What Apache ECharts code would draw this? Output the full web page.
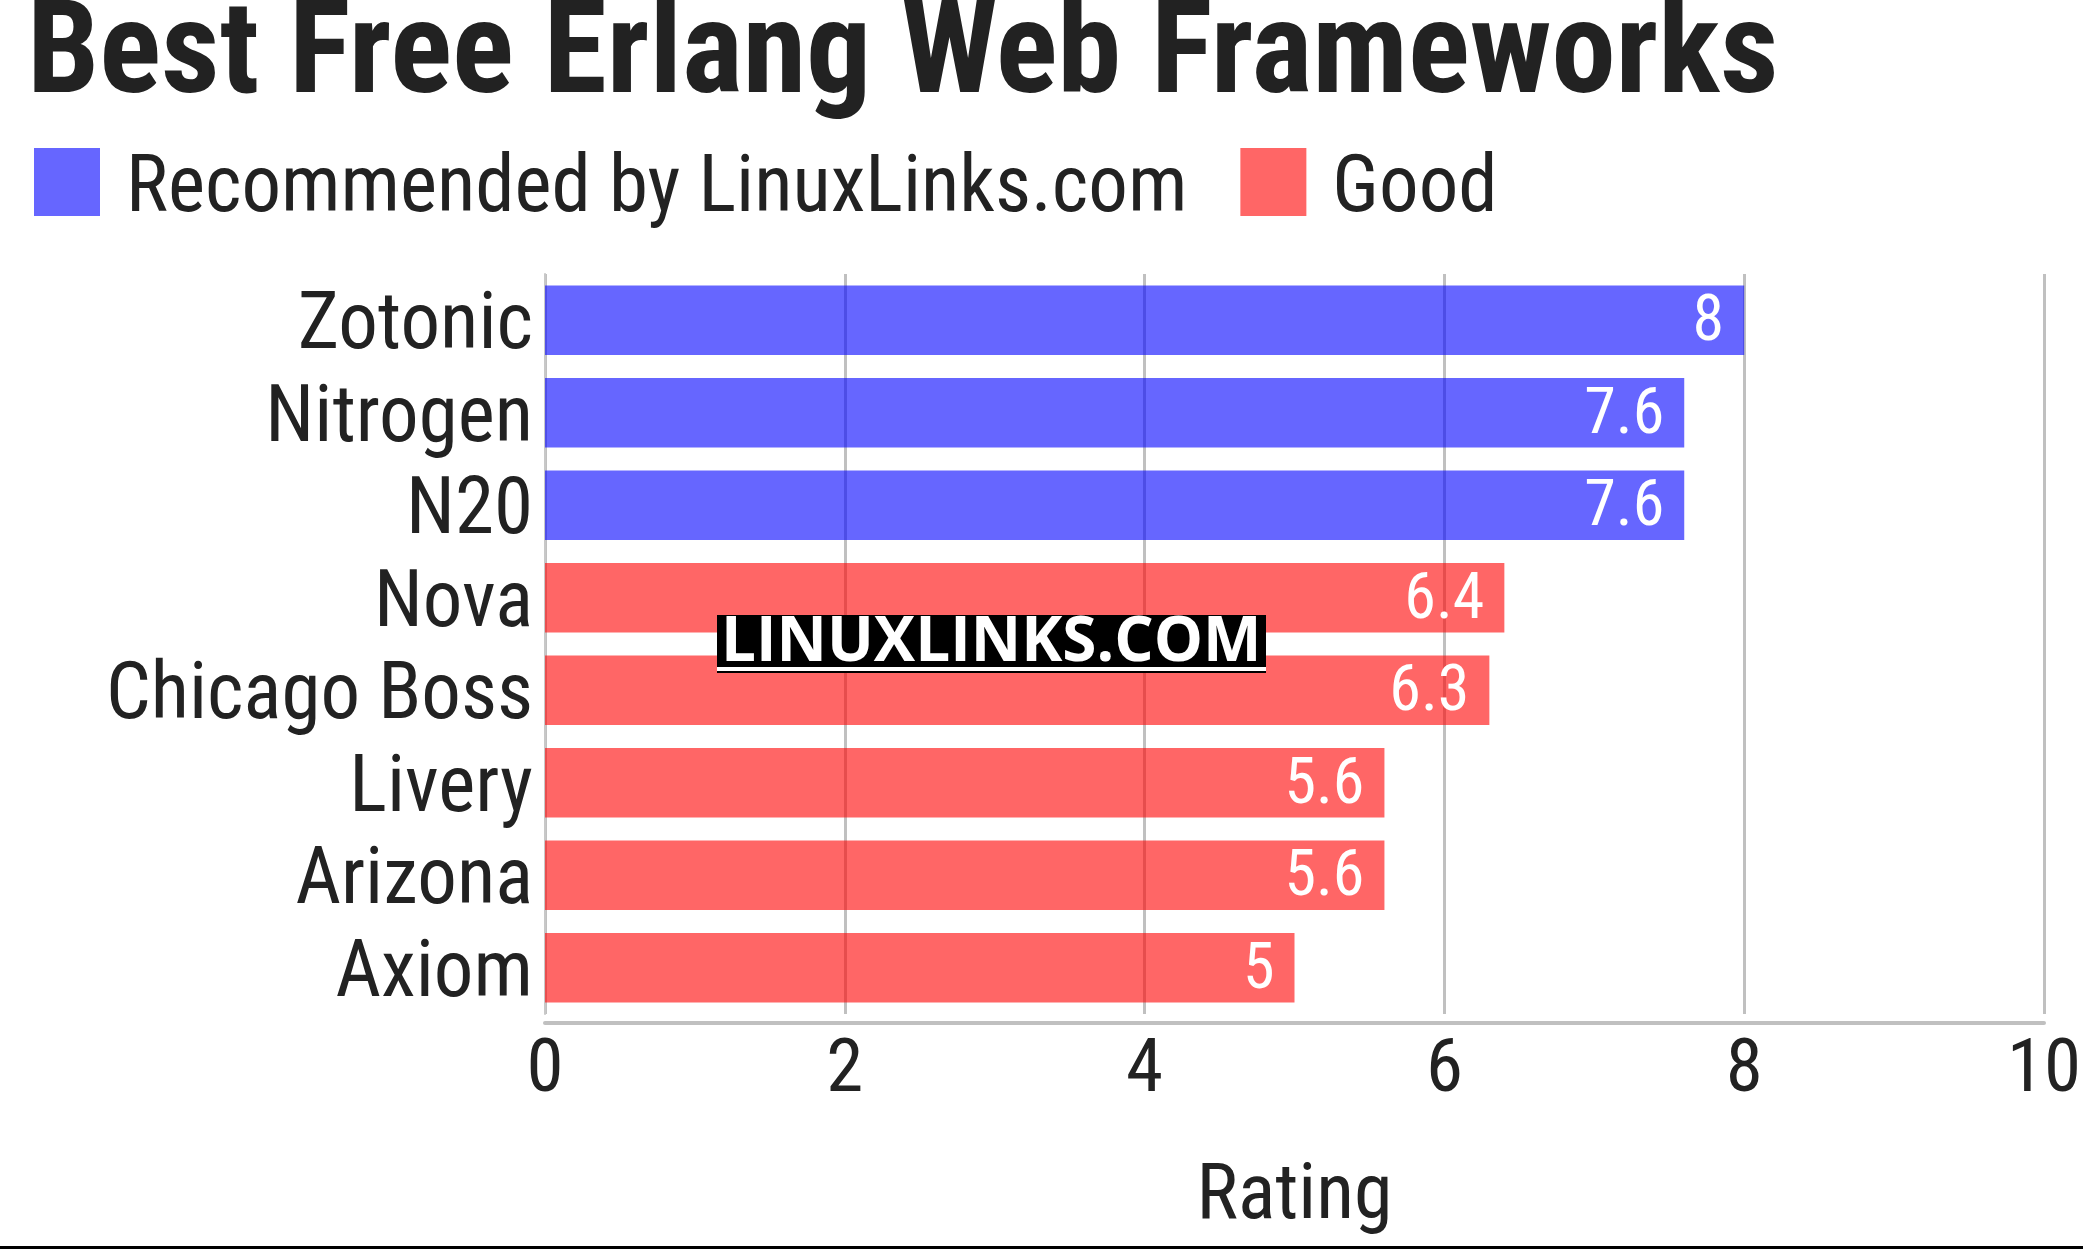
<!DOCTYPE html>
<html>
<head>
<meta charset="utf-8">
<script src="https://cdn.jsdelivr.net/npm/echarts@6/dist/echarts.min.js"></script>
<style>
  html, body { margin: 0; padding: 0; background: #fff; }
  #chart { width: 2083px; height: 1251px; }
</style>
</head>
<body>
<div id="chart"></div>
<script>
// data
var categories = ['Zotonic', 'Nitrogen', 'N20', 'Nova', 'Chicago Boss', 'Livery', 'Arizona', 'Axiom'];
var recommended = [8, 7.6, 7.6, null, null, null, null, null];
var good = [null, null, null, 6.4, 6.3, 5.6, 5.6, 5];
var xTicks = [0, 2, 4, 6, 8, 10];

var condensed = '"Roboto Condensed", "Liberation Sans Narrow", "DejaVu Sans Condensed", Roboto, sans-serif';

var chart = echarts.init(document.getElementById('chart'));

function barLabel() {
  return {
    show: true,
    position: 'insideRight',
    distance: 20,
    offset: [0, 4],
    color: '#fff',
    fontFamily: condensed,
    fontSize: 64,
    formatter: function (p) { return p.value == null ? '' : String(p.value); }
  };
}

// square legend marker sitting a little above the text centre
var legendIcon = 'path://M0,0L66,0L66,68L0,68Z M0,86L0.01,86';

chart.setOption({
  animation: false,
  title: {
    text: 'Best Free Erlang Web Frameworks',
    left: 22,
    top: -10,
    textStyle: { fontFamily: condensed, fontWeight: 'bold', fontSize: 129, color: '#222' }
  },
  legend: {
    left: 29,
    top: 143,
    itemWidth: 66,
    itemHeight: 86,
    itemGap: 53,
    icon: legendIcon,
    textStyle: { fontFamily: condensed, fontSize: 79, color: '#222', padding: [0, 0, 0, 21] },
    data: ['Recommended by LinuxLinks.com', 'Good']
  },
  grid: { left: 545, right: 39, top: 274, bottom: 237, containLabel: false, outerBoundsMode: 'none' },
  xAxis: {
    type: 'value',
    min: xTicks[0],
    max: xTicks[xTicks.length - 1],
    interval: 2,
    offset: 9,
    name: 'Rating',
    nameLocation: 'middle',
    nameGap: 136,
    nameTextStyle: { fontFamily: condensed, fontSize: 78, color: '#222' },
    axisLine: { show: true, onZero: false, lineStyle: { color: '#c0c0c0', width: 4 } },
    axisTick: { show: false },
    axisLabel: { fontFamily: condensed, fontSize: 75, color: '#222', margin: 12 },
    splitLine: { show: true, lineStyle: { color: '#c0c0c0', width: 3 } }
  },
  yAxis: {
    type: 'category',
    inverse: true,
    data: categories,
    axisLine: { show: true, lineStyle: { color: '#c8c8c8', width: 2 } },
    axisTick: { show: false },
    axisLabel: {
      interval: 0, fontFamily: condensed, fontSize: 79, color: '#222', margin: 12,
      verticalAlign: 'top', lineHeight: 16
    }
  },
  series: [
    {
      name: 'Recommended by LinuxLinks.com',
      type: 'bar',
      stack: 'all',
      barCategoryGap: '25%',
      itemStyle: { color: 'rgba(0,0,255,0.6)' },
      label: barLabel(),
      data: recommended
    },
    {
      name: 'Good',
      type: 'bar',
      stack: 'all',
      barCategoryGap: '25%',
      itemStyle: { color: 'rgba(255,0,0,0.6)' },
      label: barLabel(),
      data: good
    }
  ],
  graphic: [
    {
      type: 'rect',
      left: 717, top: 615,
      shape: { width: 549, height: 58 },
      style: { fill: '#000' },
      z: 100
    },
    {
      type: 'rect',
      left: 717, top: 667,
      shape: { width: 549, height: 4 },
      style: { fill: '#fff' },
      z: 101
    },
    {
      type: 'text',
      left: 721, top: 612,
      style: { text: 'LINUXLINKS.COM', fill: '#fff', font: 'bold 62px "Open Sans", "DejaVu Sans", sans-serif' },
      z: 102
    },
    {
      type: 'rect',
      left: 0, top: 1246,
      shape: { width: 2083, height: 3 },
      style: { fill: '#000' },
      z: 100
    }
  ]
});
</script>
</body>
</html>
